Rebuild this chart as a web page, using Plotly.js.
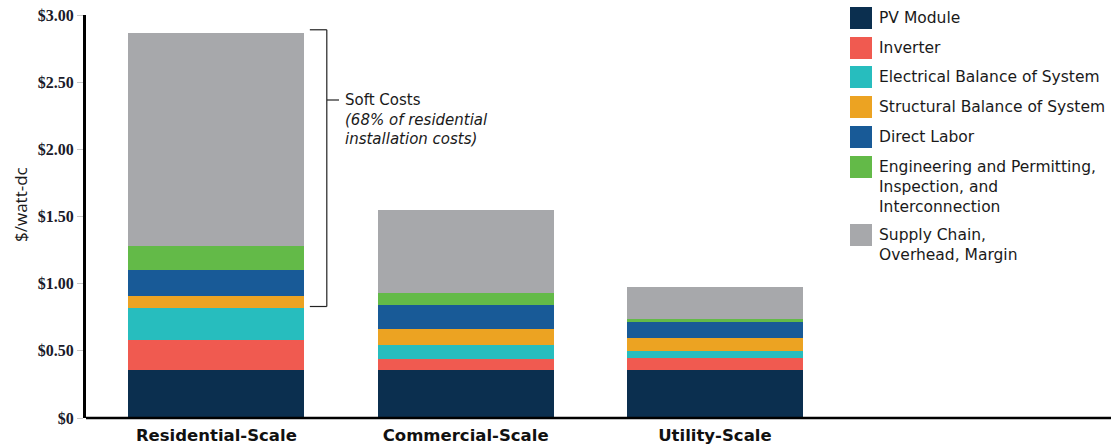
<!DOCTYPE html>
<html>
<head>
<meta charset="utf-8">
<script src="https://cdn.plot.ly/plotly-3.0.1.min.js"></script>
<style>html,body{margin:0;padding:0;background:#fff;}#chart{width:1119px;height:446px;}</style>
</head>
<body>
<div id="chart"></div>
<script>
// ---- data ----
const categories = ["Residential-Scale", "Commercial-Scale", "Utility-Scale"];
const seriesNames = [
  "PV Module",
  "Inverter",
  "Electrical Balance of System",
  "Structural Balance of System",
  "Direct Labor",
  "Engineering and Permitting,<br>Inspection, and<br>Interconnection",
  "Supply Chain,<br>Overhead, Margin"
];
const pvModule     = [0.36, 0.36, 0.36];
const inverter     = [0.22, 0.08, 0.09];
const electricalBOS= [0.24, 0.10, 0.05];
const structuralBOS= [0.09, 0.12, 0.095];
const directLabor  = [0.19, 0.18, 0.12];
const engineering  = [0.18, 0.09, 0.02];
const supplyChain  = [1.585, 0.62, 0.24];
const seriesValues = [pvModule, inverter, electricalBOS, structuralBOS, directLabor, engineering, supplyChain];
const colors = ["#0b2f4f", "#f05a50", "#27bdbe", "#eca322", "#185a97", "#63ba48", "#a7a8ab"];
const yTickVals = [0, 0.5, 1, 1.5, 2, 2.5, 3];
const yTickText = ["$0", "$0.50", "$1.00", "$1.50", "$2.00", "$2.50", "$3.00"];
const softCostRange = [0.83, 2.89];

const traces = seriesValues.map((vals, i) => ({
  type: "bar",
  name: seriesNames[i],
  x: categories,
  y: vals,
  width: 0.706,
  marker: {color: colors[i], line: {width: 0}},
  hoverinfo: "y+name"
}));

const sansFont = "'DejaVu Sans', 'Open Sans', Arial, sans-serif";
const shapes = [];
const annotations = [];

// Custom legend (large square swatches)
const legendCenters = [18, 48, 77, 107, 137, 167, 235]; // px from top
const H = 446, T = 15, B = 28, L = 86, R = 8;
const plotH = H - T - B, plotW = 1119 - L - R;
const toPaperY = py => (H - B - py) / plotH;
const toPaperX = px => (px - L) / plotW;
seriesNames.forEach((n, i) => {
  const c = legendCenters[i];
  shapes.push({type: "rect", xref: "paper", yref: "paper",
    x0: toPaperX(850), x1: toPaperX(872), y0: toPaperY(c + 11), y1: toPaperY(c - 11),
    fillcolor: colors[i], line: {width: 0}});
  annotations.push({xref: "paper", yref: "paper", x: toPaperX(877), y: toPaperY(c - 11),
    xanchor: "left", yanchor: "top", align: "left", showarrow: false,
    text: n, font: {family: sansFont, size: 15.5, color: "#1a1a1a"}});
});

// Soft cost bracket
const bx0 = 0.375, bx1 = 0.443;
shapes.push({type: "line", xref: "x", yref: "y", x0: bx1, x1: bx1, y0: softCostRange[0], y1: softCostRange[1], line: {color: "#222", width: 1.2}});
shapes.push({type: "line", xref: "x", yref: "y", x0: bx0, x1: bx1, y0: softCostRange[0], y1: softCostRange[0], line: {color: "#222", width: 1.2}});
shapes.push({type: "line", xref: "x", yref: "y", x0: bx0, x1: bx1, y0: softCostRange[1], y1: softCostRange[1], line: {color: "#222", width: 1.2}});
shapes.push({type: "line", xref: "paper", yref: "paper", x0: toPaperX(327), x1: toPaperX(339), y0: toPaperY(100), y1: toPaperY(100), line: {color: "#222", width: 1.2}});
annotations.push({xref: "paper", yref: "paper", x: toPaperX(343), y: toPaperY(89), xanchor: "left", yanchor: "top", align: "left", showarrow: false,
  text: "Soft Costs<br><i>(68% of residential<br>installation costs)</i>", font: {family: sansFont, size: 15, color: "#1a1a1a"}});

// y-axis title
annotations.push({xref: "paper", yref: "paper", x: toPaperX(20), y: toPaperY(205), xanchor: "center", yanchor: "middle",
  textangle: -90, showarrow: false, text: "$/watt-dc", font: {family: "'Open Sans', Arial, sans-serif", size: 17, color: "#1a1a1a"}});

const layout = {
  width: 1119, height: 446,
  margin: {l: L, r: R, t: T, b: B, pad: 0},
  paper_bgcolor: "#fff", plot_bgcolor: "#fff",
  barmode: "stack",
  showlegend: false,
  xaxis: {
    type: "category",
    range: [-0.523, 3.589],
    showgrid: false, zeroline: false,
    showline: false,
    ticks: "",
    ticklabelstandoff: 5,
    tickfont: {family: sansFont, size: 16.5, color: "#111", weight: "bold"},
    fixedrange: true
  },
  yaxis: {
    range: [0, 3.0],
    tickvals: yTickVals, ticktext: yTickText,
    showgrid: false, zeroline: false,
    showline: true, linecolor: "#000", linewidth: 3,
    ticks: "outside", ticklen: 6, tickcolor: "#c8c8c8", tickwidth: 1,
    tickfont: {family: "'Liberation Serif', 'DejaVu Serif', serif", size: 16, color: "#1a1a2a", weight: "bold"},
    fixedrange: true
  },
  shapes: shapes.concat([
    {type: "line", xref: "paper", yref: "paper", x0: 0, x1: 1, y0: 0, y1: 0, line: {color: "#000", width: 2.5}, layer: "above"}
  ]),
  annotations: annotations
};

Plotly.newPlot("chart", traces, layout, {displayModeBar: false, staticPlot: true});
</script>
</body>
</html>
